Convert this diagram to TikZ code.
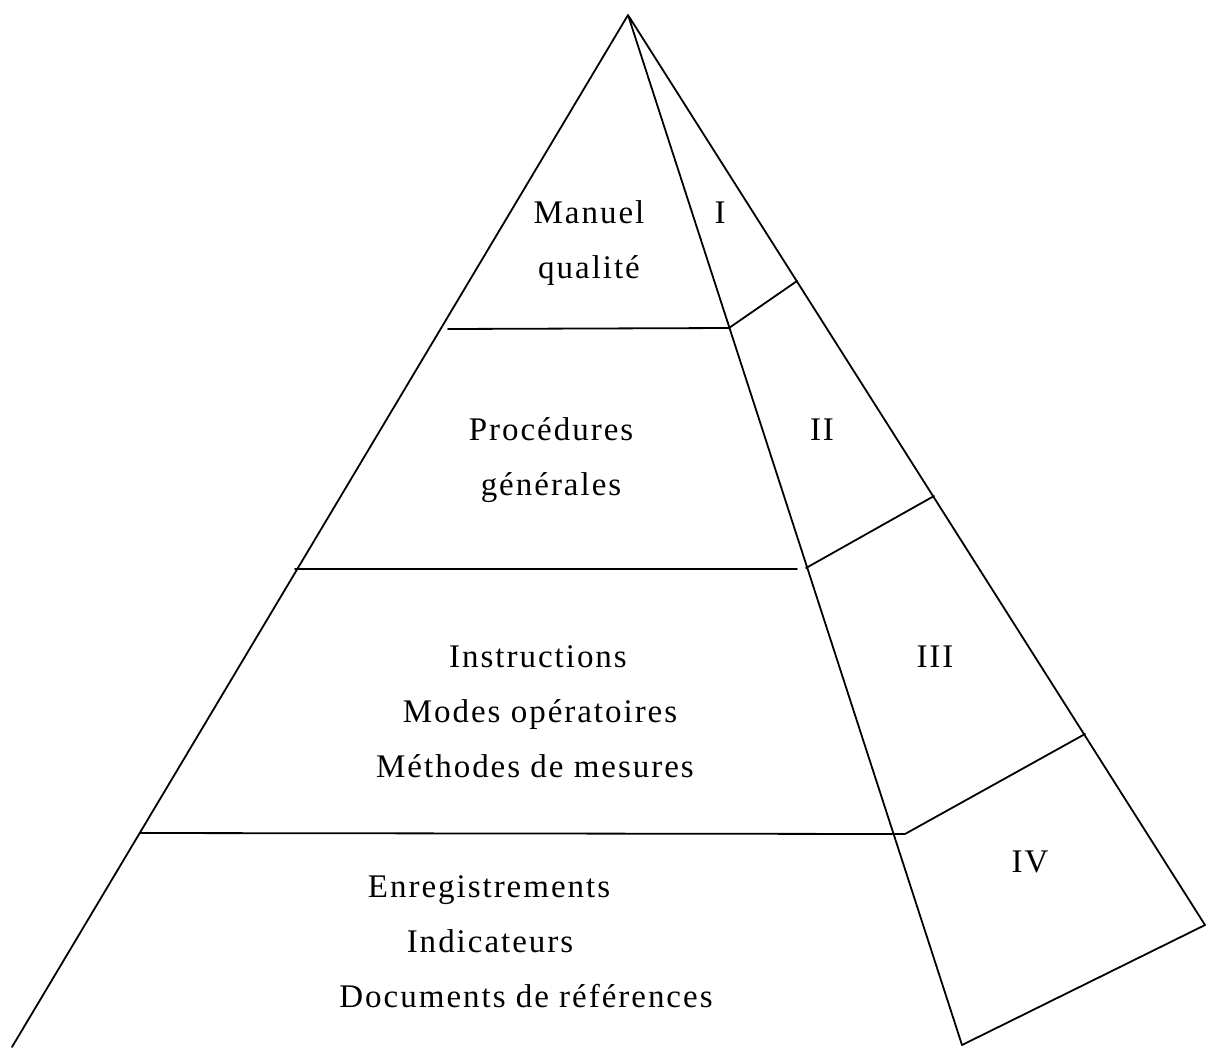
\documentclass[tikz,border=0pt]{standalone}
\usepackage{fontspec}
\newfontfamily\pyrfont[LetterSpace=6]{Liberation Serif}
\tikzset{
    txt/.style={font=\pyrfont\fontsize{33}{40}\selectfont, anchor=base, inner sep=0pt},
    edge/.style={line width=1.8pt, line join=round, line cap=round}
}
\begin{document}
\begin{tikzpicture}[x=1pt, y=-1pt]
    \useasboundingbox (0,0) rectangle (1206,1047);

    % Draw corners
    \coordinate (top) at (628, 15);
    \coordinate (bl) at (12, 1047);
    \coordinate (bm) at (962, 1045);
    \coordinate (br) at (1205, 925);
    \coordinate (a1) at (448, 329);
    \coordinate (b1) at (729, 328);
    \coordinate (c1) at (797, 281);
    \coordinate (a2) at (295, 569);
    \coordinate (b2) at (797, 569);
    \coordinate (d2) at (806, 568);
    \coordinate (c2) at (934, 496);
    \coordinate (a3) at (140, 833);
    \coordinate (b3) at (905, 834);
    \coordinate (c3) at (1085, 734);

    % Draw edges
    \draw[edge] (bl) -- (top) -- (bm) -- (br) -- (top);
    \draw[edge] (a1) -- (b1) -- (c1);
    \draw[edge] (a2) -- (b2);
    \draw[edge] (d2) -- (c2);
    \draw[edge] (a3) -- (b3) -- (c3);

    % Draw nodes
    \node[txt] (manuel) at (589, 223) {Manuel};
    \node[txt] (qualite) at (589, 278) {qualité};
    \node[txt] (one) at (720, 223) {I};
    \node[txt] (proc) at (551, 440) {Procédures};
    \node[txt] (gen) at (551, 495) {générales};
    \node[txt] (two) at (822, 440) {II};
    \node[txt] (instr) at (538, 667) {Instructions};
    \node[txt] (modes) at (540, 722) {Modes opératoires};
    \node[txt] (meth) at (535, 777) {Méthodes de mesures};
    \node[txt] (three) at (935, 667) {III};
    \node[txt] (enreg) at (489, 897) {Enregistrements};
    \node[txt] (indic) at (490, 952) {Indicateurs};
    \node[txt] (docs) at (526, 1007) {Documents de références};
    \node[txt] (four) at (1030, 872) {IV};
\end{tikzpicture}
\end{document}
